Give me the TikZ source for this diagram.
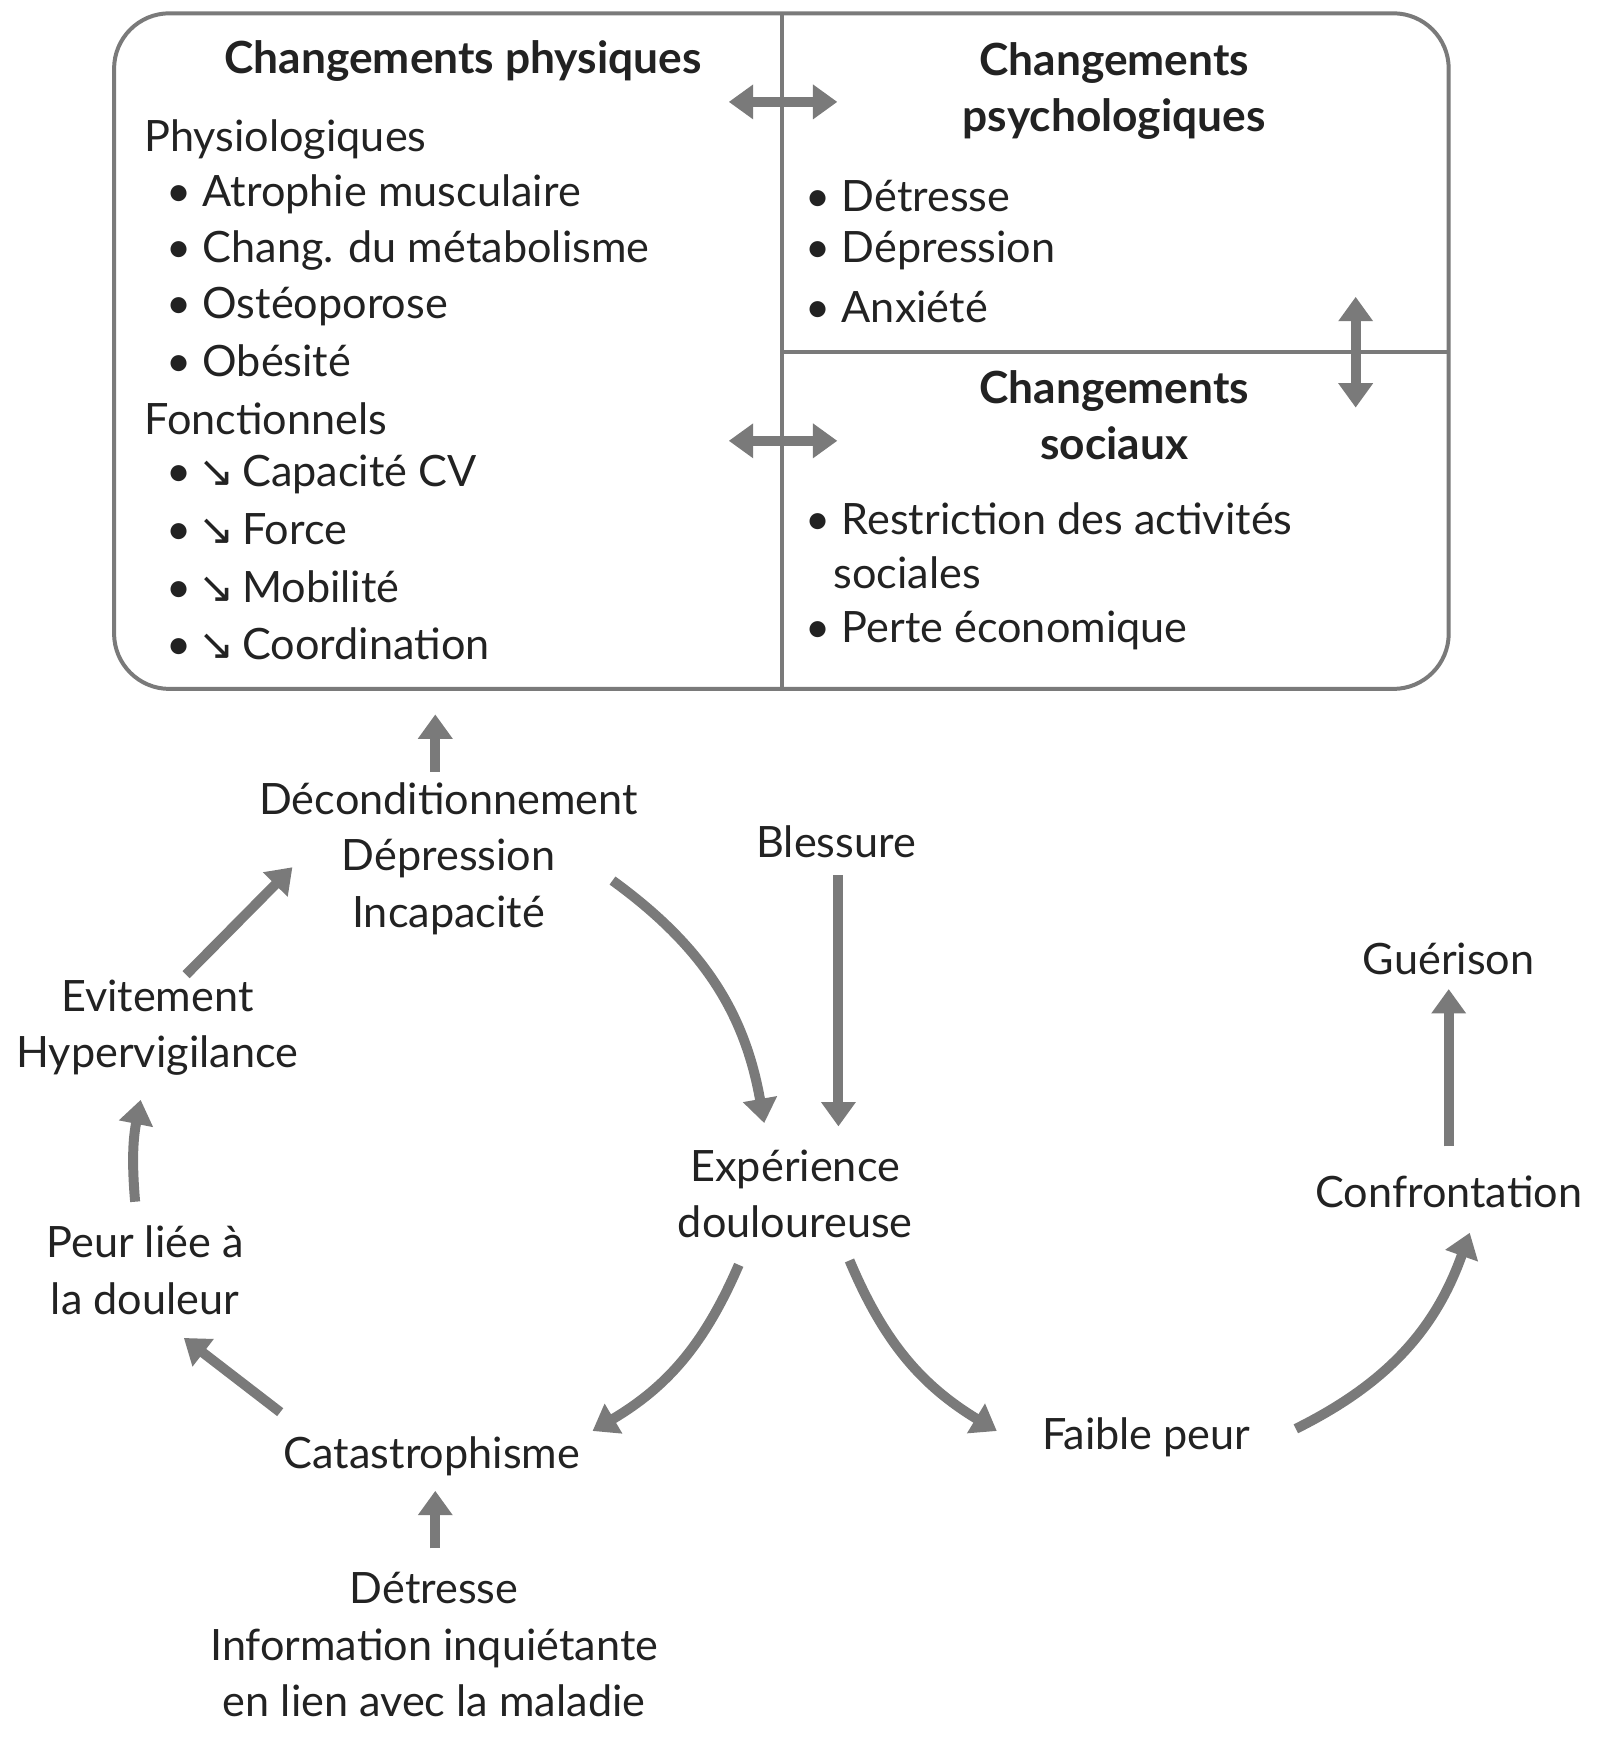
\documentclass[tikz,border=0pt]{standalone}
\usepackage{fontspec}
\setmainfont{Lato}
\newfontfamily\arr{DejaVu Sans}
\usetikzlibrary{arrows.meta}
\definecolor{ag}{HTML}{7A7A7A}
\definecolor{tx}{HTML}{222222}
\newcommand{\dn}{{\arr\char"2198}}
\begin{document}
\begin{tikzpicture}[x=0.5pt,y=-0.5pt,
  t/.style={font=\fontsize{19.5}{25.5}\selectfont,text=tx,inner sep=0pt,align=center},
  l/.style={t,anchor=west},
  b/.style={t,font=\fontsize{20}{25.5}\selectfont\bfseries},
  ar/.style={draw=ag,line width=4.5pt,-{Triangle[width=15pt,length=11pt]}},
  dar/.style={draw=ag,line width=4.5pt,{Triangle[width=15pt,length=11pt]}-{Triangle[width=15pt,length=11pt]}}]
\useasboundingbox (0,0) rectangle (1445,1571);
\draw[ag,line width=1.8pt,rounded corners=25pt] (103,12) rectangle (1308,622);
\draw[ag,line width=1.8pt] (706,12) -- (706,622) (706,318) -- (1308,318);
\node[b] (cp) at (418,55) {Changements physiques};
\node[b] (cps) at (1006,82) {Changements\\psychologiques};
\node[b] (cs) at (1006,375) {Changements\\sociaux};
\node[l] (p0) at (130,126) {Physiologiques};
\node[l] (p1) at (150,175) {• Atrophie musculaire};
\node[l] (p2) at (150,226) {• Chang. du métabolisme};
\node[l] (p3) at (150,277) {• Ostéoporose};
\node[l] (p4) at (150,326) {• Obésité};
\node[l] (f0) at (130,378) {Fonctionnels};
\node[l] (f1) at (150,428) {•\,\dn\,Capacité CV};
\node[l] (f2) at (150,478) {•\,\dn\,Force};
\node[l] (f3) at (150,530) {•\,\dn\,Mobilité};
\node[l] (f4) at (150,581) {•\,\dn\,Coordination};
\node[l] (s1) at (727,177) {• Détresse};
\node[l] (s2) at (727,226) {• Dépression};
\node[l] (s3) at (727,277) {• Anxiété};
\node[l] (o1) at (727,468) {• Restriction des activités};
\node[l] (o2) at (752,517) {sociales};
\node[l] (o3) at (727,569) {• Perte économique};
\draw[dar] (658,92) -- (756,92);
\draw[dar] (658,398) -- (756,398);
\draw[dar] (1224,268) -- (1224,368);
% lower
\node[t] (dec) at (405,775) {Déconditionnement\\Dépression\\Incapacité};
\node[t] (ble) at (755,760) {Blessure};
\node[t] (exp) at (718,1078) {Expérience\\douloureuse};
\node[t] (gue) at (1308,866) {Guérison};
\node[t] (con) at (1308,1076) {Confrontation};
\node[t] (evi) at (142,928) {Evitement\\Hypervigilance};
\node[t] (peu) at (131,1147) {Peur liée à\\la douleur};
\node[t] (cat) at (390,1315) {Catastrophisme};
\node[t] (fai) at (1035,1298) {Faible peur};
\node[t] (det) at (392,1485) {Détresse\\Information inquiétante\\en lien avec la maladie};
\coordinate (box) at (393,645);
\draw[ar] (393,697) -- (box);
\draw[ar] (553,795) to[bend left=22] (690,1014);
\draw[ar] (757,790) -- (757,1017);
\draw[ar] (667,1142) to[bend left=18] (535,1292);
\draw[ar] (767,1138) to[bend right=18] (900,1292);
\draw[ar] (1170,1290) to[bend right=22] (1327,1113);
\draw[ar] (1308,1035) -- (1308,893);
\draw[ar] (253,1275) -- (166,1208);
\draw[ar] (393,1398) -- (393,1346);
\draw[ar] (122,1085) to[bend left=8] (127,993);
\draw[ar] (168,880) -- (264,783);
\end{tikzpicture}
\end{document}
